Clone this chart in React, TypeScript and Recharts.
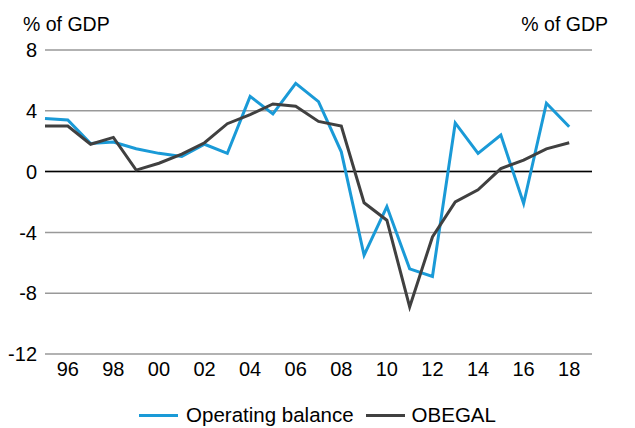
import React from 'react';
import { LineChart, Line, XAxis, YAxis, CartesianGrid, ReferenceLine, Legend } from 'recharts';

const years = [
  1995, 1996, 1997, 1998, 1999, 2000, 2001, 2002, 2003, 2004, 2005, 2006,
  2007, 2008, 2009, 2010, 2011, 2012, 2013, 2014, 2015, 2016, 2017, 2018,
];
const operatingBalance = [
  3.5, 3.4, 1.85, 1.95, 1.5, 1.2, 1.0, 1.8, 1.2, 4.95, 3.8, 5.8,
  4.6, 1.3, -5.5, -2.3, -6.4, -6.9, 3.2, 1.2, 2.4, -2.1, 4.5, 2.95,
];
const obegal = [
  3.0, 3.0, 1.8, 2.25, 0.1, 0.55, 1.15, 1.9, 3.15, 3.75, 4.45, 4.3,
  3.3, 3.0, -2.05, -3.2, -8.9, -4.3, -2.0, -1.2, 0.2, 0.75, 1.5, 1.9,
];
const xTicks = [1996, 1998, 2000, 2002, 2004, 2006, 2008, 2010, 2012, 2014, 2016, 2018];
const yTicks = [-12, -8, -4, 0, 4, 8];

const BLUE = '#1a9ad7';
const DARK = '#404040';
const FONT = '"Liberation Sans", Arial, sans-serif';

const data = years.map((year, i) => ({
  year,
  operating: operatingBalance[i],
  obegal: obegal[i],
}));

const fmtYear = (y: number) => String(y).slice(2);

const LegendContent = () => (
  <div
    style={{
      boxSizing: 'border-box',
      height: 44,
      paddingTop: 18,
      display: 'flex',
      justifyContent: 'center',
      alignItems: 'center',
      fontFamily: FONT,
      fontSize: 20.5,
      color: '#000',
    }}
  >
    <span style={{ display: 'inline-block', width: 39, height: 3, background: BLUE, marginRight: 8 }} />
    <span style={{ marginRight: 12 }}>Operating balance</span>
    <span style={{ display: 'inline-block', width: 39, height: 3, background: DARK, marginRight: 7 }} />
    <span>OBEGAL</span>
  </div>
);

export default function App() {
  return (
    <div style={{ position: 'relative', width: 635, height: 428, background: '#fff', fontFamily: FONT }}>
      <style>{`body{margin:0}`}</style>
      <div style={{ position: 'absolute', left: 23, top: 11, fontSize: 19.5, lineHeight: '26px' }}>% of GDP</div>
      <div style={{ position: 'absolute', right: 27, top: 11, fontSize: 19.5, lineHeight: '26px' }}>% of GDP</div>
      <LineChart width={635} height={428} data={data} margin={{ top: 50, right: 0, bottom: 0, left: 0 }}>
        <CartesianGrid vertical={false} stroke="#999" strokeWidth={1.5} yAxisId="left" />
        <XAxis
          dataKey="year"
          type="number"
          domain={[1995, 2019]}
          ticks={xTicks}
          tickFormatter={fmtYear}
          axisLine={false}
          tickLine={false}
          interval={0}
          height={30}
          tick={{ fill: '#000', fontSize: 20, fontFamily: FONT }}
        />
        <YAxis
          yAxisId="left"
          orientation="left"
          width={45}
          domain={[-12, 8]}
          ticks={yTicks}
          axisLine={false}
          tickLine={false}
          interval={0}
          tick={{ fill: '#000', fontSize: 20, fontFamily: FONT }}
        />
        <YAxis
          yAxisId="right"
          orientation="right"
          width={43}
          domain={[-12, 8]}
          ticks={yTicks}
          axisLine={false}
          tickLine={false}
          interval={0}
          tick={{ fill: '#000', fontSize: 20, fontFamily: FONT }}
        />
        <ReferenceLine yAxisId="left" y={0} stroke="#000" strokeWidth={1.5} />
        <Line
          yAxisId="left"
          type="linear"
          dataKey="operating"
          name="Operating balance"
          stroke={BLUE}
          strokeWidth={3}
          dot={false}
          isAnimationActive={false}
        />
        <Line
          yAxisId="left"
          type="linear"
          dataKey="obegal"
          name="OBEGAL"
          stroke={DARK}
          strokeWidth={3}
          dot={false}
          isAnimationActive={false}
        />
        <Legend verticalAlign="bottom" height={44} content={<LegendContent />} />
      </LineChart>
    </div>
  );
}
